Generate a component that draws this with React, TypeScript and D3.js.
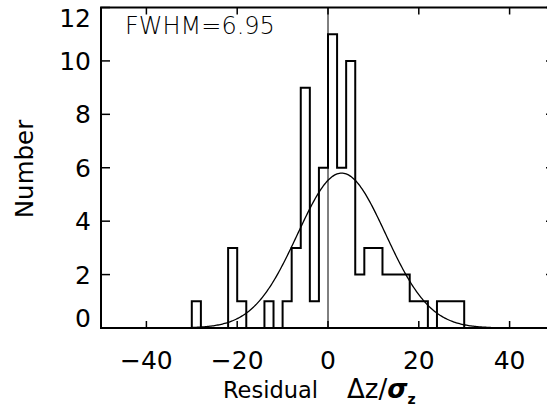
import React from "react";
import * as d3 from "d3";

// Histogram: bin left edges (bin width 2) and counts
const binStarts = [-30, -28, -26, -24, -22, -20, -18, -16, -14, -12, -10, -8, -6, -4, -2, 0, 2, 4, 6, 8, 10, 12, 14, 16, 18, 20, 22, 24, 26, 28];
const counts = [1, 0, 0, 0, 3, 1, 0, 0, 1, 0, 1, 3, 9, 1, 6, 11, 6, 10, 2, 3, 3, 2, 2, 2, 1, 1, 0, 1, 1, 1];
const binWidth = 2;

// Gaussian fit parameters
const fitAmplitude = 5.8;
const fitCenter = 3.0;
const fitSigma = 9.7;

const xTicks = [-40, -20, 0, 20, 40];
const yTicks = [0, 2, 4, 6, 8, 10, 12];
const xDomain = [-50, 50];
const yDomain = [0, 12];
const annotation = "FWHM=6.95";

const W = 547;
const H = 414;
const FONT = "'DejaVu Sans', 'Liberation Sans', sans-serif";

export default function App() {
  const left = 101, right = 555, top = 7.5, bottom = 328;
  const x = d3.scaleLinear().domain(xDomain).range([left, right]);
  const y = d3.scaleLinear().domain(yDomain).range([bottom, top]);

  // step outline
  let p = `M${x(binStarts[0])},${y(0)}`;
  binStarts.forEach((b, i) => {
    p += `V${y(counts[i])}H${x(b + binWidth)}`;
  });
  p += `V${y(0)}`;

  const xs = d3.range(xDomain[0], xDomain[1] + 0.001, 0.25);
  const gauss = (v: number) =>
    fitAmplitude * Math.exp(-((v - fitCenter) ** 2) / (2 * fitSigma * fitSigma));
  const line = d3
    .line<number>()
    .x((d) => x(d))
    .y((d) => y(gauss(d)))
    .curve(d3.curveLinear);

  const labelY = (v: number) => Math.min(Math.max(y(v), 17.5), 318);

  return (
    <svg
      width={W}
      height={H}
      viewBox={`0 0 ${W} ${H}`}
      style={{ position: "absolute", left: 0, top: 0, background: "#fff" }}
    >
      <defs>
        <clipPath id="plotclip">
          <rect x={left} y={top} width={right - left} height={bottom - top} />
        </clipPath>
      </defs>
      <rect x={0} y={0} width={W} height={H} fill="#fff" />

      {/* zero line */}
      <line x1={x(0)} x2={x(0)} y1={y(0)} y2={top} stroke="#000" strokeWidth={1} />

      {/* histogram */}
      <path d={p} fill="none" stroke="#000" strokeWidth={2} strokeLinejoin="miter" />

      {/* gaussian */}
      <path d={line(xs) || ""} fill="none" stroke="#000" strokeWidth={1.3} clipPath="url(#plotclip)" />

      {/* frame */}
      <rect x={left} y={top} width={right - left} height={bottom - top} fill="none" stroke="#000" strokeWidth={2} />

      {/* x ticks */}
      {xTicks.map((t) => (
        <g key={"xt" + t}>
          <line x1={x(t)} x2={x(t)} y1={bottom} y2={bottom - 7} stroke="#000" strokeWidth={1.5} />
          <line x1={x(t)} x2={x(t)} y1={top} y2={top + 7} stroke="#000" strokeWidth={1.5} />
          <text
            x={x(t)}
            y={369}
            textAnchor="middle"
            fontFamily={FONT}
            fontSize={25}
            fill="#000"
          >
            {t < 0 ? "\u2212" + Math.abs(t) : String(t)}
          </text>
        </g>
      ))}

      {/* y ticks */}
      {yTicks.map((t) => (
        <g key={"yt" + t}>
          <line x1={left} x2={left + 9} y1={y(t)} y2={y(t)} stroke="#000" strokeWidth={1.5} />
          <line x1={right} x2={right - 9} y1={y(t)} y2={y(t)} stroke="#000" strokeWidth={1.5} />
          <text
            x={91}
            y={labelY(t) + 9}
            textAnchor="end"
            fontFamily={FONT}
            fontSize={25}
            fill="#000"
          >
            {String(t)}
          </text>
        </g>
      ))}

      {/* annotation */}
      <text x={125} y={34} fontFamily={FONT} fontSize={24} fontWeight={200} fill="#000">
        {annotation}
      </text>

      {/* y label */}
      <text
        transform="translate(33,169) rotate(-90)"
        textAnchor="middle"
        fontFamily={FONT}
        fontSize={24.5}
        fill="#000"
      >
        Number
      </text>

      {/* x label */}
      <text x={223} y={398} fontFamily={FONT} fontSize={22.5} fill="#000">
        Residual
      </text>
      <text x={347} y={398} fontFamily={FONT} fontSize={26} fill="#000">
        <tspan>Δz/</tspan>
        <tspan fontWeight={700} fontStyle="italic">σ</tspan>
        <tspan fontWeight={700} fontSize={14} dy={6}>z</tspan>
      </text>
    </svg>
  );
}
